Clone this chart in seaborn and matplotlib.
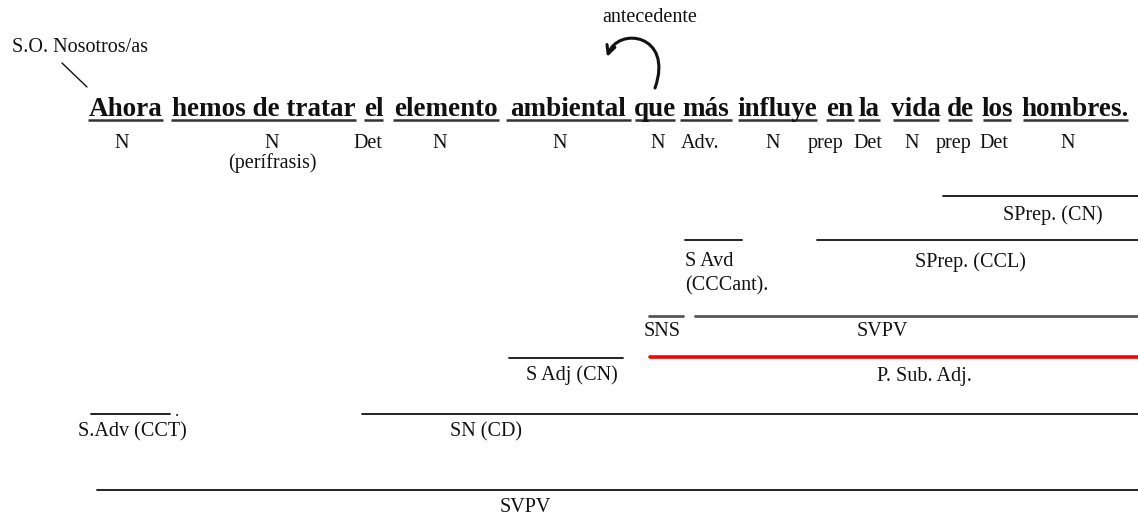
import pandas as pd
import numpy as np
import matplotlib.pyplot as plt
import seaborn as sns
from matplotlib.path import Path
from matplotlib.patches import FancyArrowPatch

# estilo limpo, sem grade
sns.set_style("white")
plt.rcParams['font.family'] = ['Liberation Serif', 'DejaVu Serif']

# ---------------- frase (palavras subrayadas) ----------------
words = ["Ahora", "hemos de tratar", "el", "elemento", "ambiental", "que", "más",
         "influye", "en", "la", "vida", "de", "los", "hombres."]
word_left = [88, 171, 364, 393, 506, 635, 680, 738, 826, 858, 893, 948, 983, 1023]
word_right = [163, 356, 383, 499, 631, 675, 732, 817, 854, 880, 939, 972, 1011, 1128]

# categorias gramaticales debajo de cada palabra
tags = ["N", "N", "Det", "N", "N", "N", "Adv.", "N", "prep", "Det", "N", "prep", "Det", "N"]
tag_x = [122, 272, 368, 440, 560, 658, 700, 773, 826, 868, 912, 954, 994, 1068]

# ---------------- sintagmas ----------------
phrases = ["SPrep. (CN)", "S Avd\n(CCCant).", "SPrep. (CCL)", "SNS", "SVPV",
           "S Adj (CN)", "P. Sub. Adj.", "S.Adv (CCT)", "SN (CD)", "SVPV"]
phrase_start = [943, 685, 817, 649, 695, 509, 650, 91, 362, 97]
phrase_end = [1138, 742, 1138, 683, 1138, 623, 1138, 170, 1138, 1138]
phrase_level = [196, 240, 240, 316, 316, 358, 357, 414, 414, 490]
label_x = [1053, 685, 970, 662, 882, 572, 924, 132, 486, 525]
label_y = [215, 274, 262, 332, 332, 375, 377, 432, 432, 507]
phrase_kind = ["negro", "negro", "negro", "gris", "gris", "negro", "rojo", "negro", "negro", "negro"]

# montando a tabela longa pro lineplot
rows = []
for i in range(len(phrases)):
    rows.append({'pid': i, 'x': phrase_start[i], 'y': phrase_level[i], 'kind': phrase_kind[i]})
    rows.append({'pid': i, 'x': phrase_end[i], 'y': phrase_level[i], 'kind': phrase_kind[i]})
df = pd.DataFrame(rows)

fig = plt.figure(figsize=(11.38, 5.19), dpi=100)
ax = fig.add_axes([0, 0, 1, 1])

sns.lineplot(data=df, x='x', y='y', units='pid', estimator=None, sort=False,
             hue='kind', palette={'negro': '#111111', 'gris': '#555555', 'rojo': '#ff0000'},
             size='kind', sizes={'negro': 1.3, 'gris': 2.0, 'rojo': 2.6},
             legend=False, ax=ax)

# palavras + subrayado
for w, l, r in zip(words, word_left, word_right):
    ax.text((l + r) / 2, 116, w, ha='center', va='baseline', fontsize=19.5,
            fontweight='bold', color='#111111')
    ax.plot([l, r], [120, 120], color='#333333', lw=1.8, solid_capstyle='butt')

for t, x in zip(tags, tag_x):
    ax.text(x, 148, t, ha='center', va='baseline', fontsize=14.5, color='#111111')
ax.text(272, 163, "(perífrasis)", ha='center', va='center', fontsize=14.5, color='#111111')

for i, lab in enumerate(phrases):
    ha = 'left' if '\n' in lab else 'center'
    ax.text(label_x[i], label_y[i], lab, ha=ha, va='center', fontsize=14.5,
            linespacing=1.35, color='#111111')
ax.text(177, 416, ".", ha='center', va='baseline', fontsize=12, color='#111111')

# sujeto omitido y antecedente
ax.text(12, 47, "S.O. Nosotros/as", ha='left', va='center', fontsize=14.5, color='#111111')
ax.plot([62, 87], [63, 87], color='#111111', lw=1)
ax.text(650, 18, "antecedente", ha='center', va='center', fontsize=14.5, color='#111111')

curva = Path([(655, 88), (674, 34), (618, 26), (607, 57)],
             [Path.MOVETO, Path.CURVE4, Path.CURVE4, Path.CURVE4])
ax.add_patch(FancyArrowPatch(path=curva, arrowstyle='->', mutation_scale=15,
                             lw=2.2, color='#111111'))

ax.set_xlim(0, 1138)
ax.set_ylim(519, 0)
ax.axis('off')

plt.savefig('out.png', dpi=100)
